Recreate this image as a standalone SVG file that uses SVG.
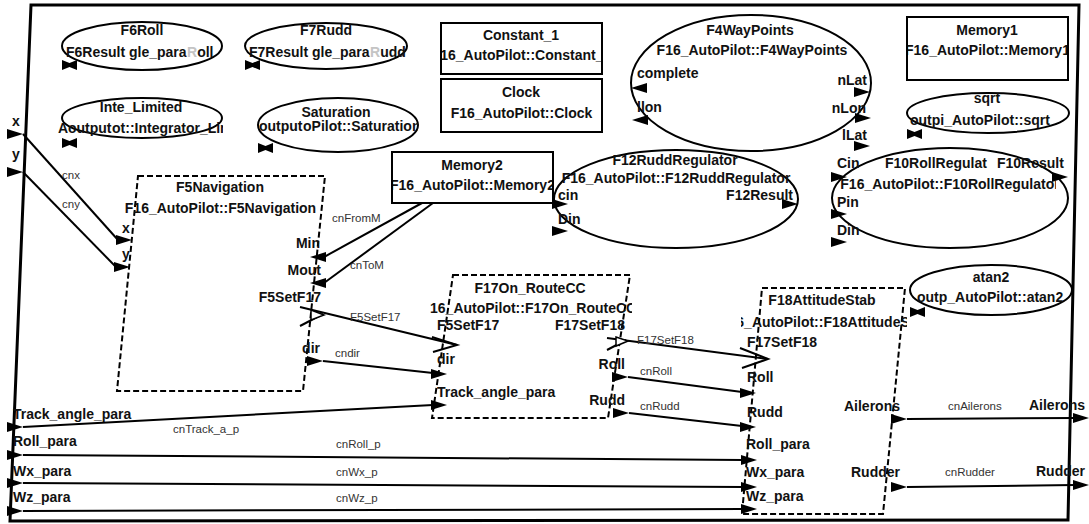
<svg xmlns="http://www.w3.org/2000/svg" width="1089" height="524" viewBox="0 0 1089 524">
  <style>
    text { font-family: "Liberation Sans", Arial, sans-serif; }
    .b { font-weight: bold; font-size: 14px; fill: #111; }
    .m { text-anchor: middle; }
    .e { text-anchor: end; }
    .g { fill: #c4c4c4; }
    .cl { font-size: 11.5px; fill: #333; }
    .shape { fill: #fff; stroke: #000; stroke-width: 2; }
    .dash { fill: none; stroke: #000; stroke-width: 2; stroke-dasharray: 6 3; }
    .w { fill: none; stroke: #000; stroke-width: 2; }
    .frame { fill: none; stroke: #000; stroke-width: 3; }
    .open { fill: #fff; stroke: #000; stroke-width: 1.5; }
  </style>
  <defs>
    <!-- filled triangles: tip at origin -->
    <path id="ar" d="M-16,-5 L0,0 L-16,5 z" fill="#000"/>
    <path id="al" d="M16,-5 L0,0 L16,5 z" fill="#000"/>
    <!-- bow-tie port glyph -->
    <path id="bt" d="M0,0 L7.5,3 L15,0 L15,10 L7.5,7 L0,10 z" fill="#000"/>
    <clipPath id="clipInte"><rect x="111" y="118" width="112" height="20"/></clipPath>
    <clipPath id="clipSat"><rect x="302" y="118" width="116" height="18"/></clipPath>
    <clipPath id="clipConst"><rect x="442" y="45" width="159" height="20"/></clipPath>
    <clipPath id="clipMem2"><rect x="393" y="176" width="159" height="20"/></clipPath>
    <clipPath id="clipMem1"><rect x="908" y="41" width="159" height="20"/></clipPath>
    <clipPath id="clipF17"><rect x="430" y="298" width="202" height="20"/></clipPath>
    <clipPath id="clipF18"><rect x="741" y="312" width="166" height="20"/></clipPath>
    <clipPath id="clipF10"><rect x="833" y="176" width="223" height="18"/></clipPath>
  </defs>

  <rect width="1089" height="524" fill="#fff"/>

  <!-- enclosing block with its own ports -->
  <g id="frame">
    <polygon class="frame" points="31,5 1079,5 1068,520 10,521"/>
    <text class="b" x="12" y="126">x</text>
    <text class="b" x="12" y="159">y</text>
    <text class="b" x="13" y="419">Track_angle_para</text>
    <text class="b" x="13" y="446">Roll_para</text>
    <text class="b" x="13" y="476">Wx_para</text>
    <text class="b" x="13" y="502">Wz_para</text>
    <text class="b e" x="1085" y="410">Ailerons</text>
    <text class="b e" x="1085" y="476">Rudder</text>
    <use href="#ar" x="23" y="134"/>
    <use href="#ar" x="23" y="172"/>
    <use href="#ar" x="23" y="427"/>
    <use href="#ar" x="23" y="455"/>
    <use href="#ar" x="23" y="483"/>
    <use href="#ar" x="23" y="511"/>
  </g>

  <g id="F6Roll">
    <ellipse class="shape" cx="142" cy="46" rx="80" ry="24"/>
    <text class="b m" x="142" y="35">F6Roll</text>
    <text class="b" x="66" y="57">F6Result gle_para</text>
    <text class="b" x="187" y="57"><tspan class="g">R</tspan>oll</text>
    <use href="#bt" x="62" y="60"/>
  </g>

  <g id="F7Rudd">
    <ellipse class="shape" cx="326" cy="46" rx="81" ry="23"/>
    <text class="b m" x="326" y="35">F7Rudd</text>
    <text class="b" x="249" y="57">F7Result gle_para</text>
    <text class="b" x="370" y="57"><tspan class="g">R</tspan>udd</text>
    <use href="#bt" x="245" y="60"/>
  </g>

  <g id="Inte_Limited">
    <ellipse class="shape" cx="142" cy="118" rx="80" ry="20"/>
    <text class="b m" x="141" y="112">Inte_Limited</text>
    <text class="b" x="58" y="133">A</text>
    <text class="b" x="68" y="133">output</text>
    <text class="b" x="112" y="133" clip-path="url(#clipInte)">ot::Integrator_Limited</text>
    <use href="#bt" x="62" y="138"/>
  </g>

  <g id="Saturation">
    <ellipse class="shape" cx="338" cy="125" rx="80" ry="27"/>
    <text class="b m" x="336" y="117">Saturation</text>
    <text class="b" x="259" y="131">output</text>
    <text class="b" x="303" y="131" clip-path="url(#clipSat)">oPilot::Saturation</text>
    <use href="#bt" x="258" y="143"/>
  </g>

  <g id="Constant_1">
    <rect class="shape" x="441" y="23" width="161" height="51"/>
    <text class="b m" x="521" y="40">Constant_1</text>
    <text class="b m" x="521.5" y="60" clip-path="url(#clipConst)">F16_AutoPilot::Constant_1</text>
  </g>

  <g id="Clock">
    <rect class="shape" x="441" y="79" width="161" height="53"/>
    <text class="b m" x="521" y="97">Clock</text>
    <text class="b m" x="521.5" y="118">F16_AutoPilot::Clock</text>
  </g>

  <g id="F4WayPoints">
    <ellipse class="shape" cx="751" cy="83" rx="120" ry="68"/>
    <text class="b m" x="750" y="35">F4WayPoints</text>
    <text class="b m" x="752" y="55">F16_AutoPilot::F4WayPoints</text>
    <text class="b" x="637" y="78">complete</text>
    <text class="b" x="637" y="112">llon</text>
    <text class="b e" x="867" y="85">nLat</text>
    <text class="b e" x="866" y="113">nLon</text>
    <text class="b e" x="867" y="140">lLat</text>
    <use href="#al" x="631" y="88"/>
    <use href="#al" x="632" y="120"/>
    <use href="#ar" x="870" y="92"/>
    <use href="#ar" x="871" y="118"/>
    <use href="#ar" x="870" y="146"/>
  </g>

  <g id="Memory1">
    <rect class="shape" x="907" y="17" width="161" height="63"/>
    <text class="b m" x="987" y="35">Memory1</text>
    <text class="b m" x="987.5" y="55" clip-path="url(#clipMem1)">F16_AutoPilot::Memory1</text>
  </g>

  <g id="sqrt">
    <ellipse class="shape" cx="988" cy="113" rx="81" ry="20"/>
    <text class="b m" x="987" y="103">sqrt</text>
    <text class="b" x="910" y="125">outpi_AutoPilot::sqrt</text>
    <use href="#bt" x="907" y="129"/>
  </g>

  <g id="Memory2">
    <rect class="shape" x="392" y="152" width="161" height="51"/>
    <text class="b m" x="472" y="170">Memory2</text>
    <text class="b m" x="472.5" y="190" clip-path="url(#clipMem2)">F16_AutoPilot::Memory2</text>
  </g>

  <g id="F12RuddRegulator">
    <ellipse class="shape" cx="676" cy="199" rx="122" ry="49"/>
    <text class="b m" x="675" y="165">F12RuddRegulator</text>
    <text class="b m" x="676" y="183">F16_AutoPilot::F12RuddRegulator</text>
    <text class="b" x="558" y="200">cin</text>
    <text class="b e" x="793" y="200">F12Result</text>
    <text class="b" x="558" y="224">Din</text>
    <use href="#ar" x="568" y="204"/>
    <use href="#ar" x="568" y="231"/>
    <use href="#ar" x="798" y="204"/>
  </g>

  <g id="F10RollRegulator">
    <ellipse class="shape" cx="950" cy="198" rx="118" ry="50"/>
    <text class="b" x="885" y="168">F10RollRegulat</text>
    <text class="b" x="997" y="168">F10Result</text>
    <text class="b m" x="950" y="189" clip-path="url(#clipF10)">F16_AutoPilot::F10RollRegulator</text>
    <text class="b" x="837" y="168">Cin</text>
    <text class="b" x="837" y="207">Pin</text>
    <text class="b" x="837" y="235">Din</text>
    <use href="#ar" x="847" y="177"/>
    <use href="#ar" x="847" y="214"/>
    <use href="#ar" x="847" y="242"/>
    <use href="#ar" x="1068" y="177"/>
  </g>

  <g id="atan2">
    <ellipse class="shape" cx="991" cy="290" rx="81" ry="25"/>
    <text class="b m" x="991" y="282">atan2</text>
    <text class="b" x="917" y="302">outp_AutoPilot::atan2</text>
    <use href="#bt" x="910" y="307"/>
  </g>

  <g id="F5Navigation">
    <polygon class="dash" points="138,176 325,176 303,391 117,391"/>
    <text class="b m" x="220" y="192">F5Navigation</text>
    <text class="b m" x="220.5" y="213">F16_AutoPilot::F5Navigation</text>
    <text class="b" x="122" y="233">x</text>
    <text class="b" x="122" y="259">y</text>
    <text class="b e" x="320" y="248">Min</text>
    <text class="b e" x="321" y="275">Mout</text>
    <text class="b e" x="321" y="302">F5SetF17</text>
    <text class="b e" x="320" y="353">dir</text>
  </g>

  <g id="F17On_RouteCC">
    <polygon class="dash" points="453,275 630,275 608,418 432,418"/>
    <text class="b m" x="530" y="293">F17On_RouteCC</text>
    <text class="b" x="421.5" y="313" clip-path="url(#clipF17)">F16_AutoPilot::F17On_RouteCC</text>
    <text class="b" x="437" y="330">F5SetF17</text>
    <text class="b e" x="625" y="330">F17SetF18</text>
    <text class="b" x="437" y="364">dir</text>
    <text class="b" x="437" y="397">Track_angle_para</text>
    <text class="b e" x="625" y="369">Roll</text>
    <text class="b e" x="625" y="405">Rudd</text>
  </g>

  <g id="F18AttitudeStab">
    <polygon class="dash" points="762,288 905,288 883,514 742,514"/>
    <text class="b m" x="822" y="305">F18AttitudeStab</text>
    <text class="b" x="720" y="327" clip-path="url(#clipF18)">F16_AutoPilot::F18AttitudeStab</text>
    <text class="b" x="747" y="347">F17SetF18</text>
    <text class="b" x="747" y="382">Roll</text>
    <text class="b" x="747" y="417">Rudd</text>
    <text class="b" x="746" y="449">Roll_para</text>
    <text class="b" x="746" y="477">Wx_para</text>
    <text class="b" x="746" y="501">Wz_para</text>
    <text class="b e" x="900" y="411">Ailerons</text>
    <text class="b e" x="900" y="477">Rudder</text>
  </g>

  <g id="connectors">
    <!-- cnx / cny -->
    <line class="w" x1="23" y1="134" x2="118" y2="240"/>
    <use href="#ar" x="132" y="240"/>
    <text class="cl" x="62" y="179">cnx</text>
    <line class="w" x1="23" y1="172" x2="116" y2="267"/>
    <use href="#ar" x="130" y="267"/>
    <text class="cl" x="62" y="208">cny</text>

    <!-- Memory2 links -->
    <line class="w" x1="422" y1="203" x2="324" y2="257"/>
    <use href="#al" x="310" y="257"/>
    <text class="cl" x="332" y="222">cnFromM</text>
    <line class="w" x1="433" y1="203" x2="324" y2="283"/>
    <use href="#al" x="310" y="283"/>
    <text class="cl" x="350" y="269">cnToM</text>

    <!-- F5SetF17 -->
    <line class="w" x1="300" y1="307" x2="457" y2="345"/>
    <polyline class="w" points="300,326 323,314"/>
    <polygon class="open" points="311,310 324,315 311,320"/>
    <polyline class="w" points="432,337 457,345 433,352"/>
    <text class="cl" x="350" y="321">F5SetF17</text>

    <!-- cndir -->
    <use href="#ar" x="323" y="361"/>
    <line class="w" x1="323" y1="361" x2="433" y2="373"/>
    <use href="#ar" x="447" y="374"/>
    <text class="cl" x="335" y="357">cndir</text>

    <!-- cnTrack_a_p -->
    <line class="w" x1="23" y1="427" x2="433" y2="405"/>
    <use href="#ar" x="447" y="405"/>
    <text class="cl" x="173" y="433">cnTrack_a_p</text>

    <!-- F17SetF18 -->
    <line class="w" x1="607" y1="338" x2="768" y2="359"/>
    <polyline class="w" points="607,350 626,340"/>
    <polygon class="open" points="616,337 628,341 616,346"/>
    <polyline class="w" points="740,348 768,359 742,368"/>
    <text class="cl" x="637" y="344">F17SetF18</text>

    <!-- cnRoll / cnRudd -->
    <use href="#ar" x="628" y="377"/>
    <line class="w" x1="628" y1="377" x2="742" y2="392"/>
    <use href="#ar" x="756" y="393"/>
    <text class="cl" x="640" y="375">cnRoll</text>
    <use href="#ar" x="629" y="413"/>
    <line class="w" x1="629" y1="413" x2="742" y2="426"/>
    <use href="#ar" x="756" y="427"/>
    <text class="cl" x="640" y="410">cnRudd</text>

    <!-- parameter feeds -->
    <line class="w" x1="23" y1="455" x2="743" y2="460"/>
    <use href="#ar" x="757" y="460"/>
    <text class="cl" x="336" y="448">cnRoll_p</text>
    <line class="w" x1="23" y1="483" x2="743" y2="487"/>
    <use href="#ar" x="757" y="487"/>
    <text class="cl" x="336" y="476">cnWx_p</text>
    <line class="w" x1="23" y1="511" x2="743" y2="509"/>
    <use href="#ar" x="757" y="509"/>
    <text class="cl" x="336" y="502">cnWz_p</text>

    <!-- outputs -->
    <use href="#ar" x="907" y="419"/>
    <line class="w" x1="907" y1="419" x2="1075" y2="418"/>
    <use href="#ar" x="1089" y="418"/>
    <text class="cl" x="948" y="410">cnAilerons</text>
    <use href="#ar" x="907" y="487"/>
    <line class="w" x1="907" y1="487" x2="1075" y2="485"/>
    <use href="#ar" x="1089" y="485"/>
    <text class="cl" x="945" y="476">cnRudder</text>
  </g>
</svg>
